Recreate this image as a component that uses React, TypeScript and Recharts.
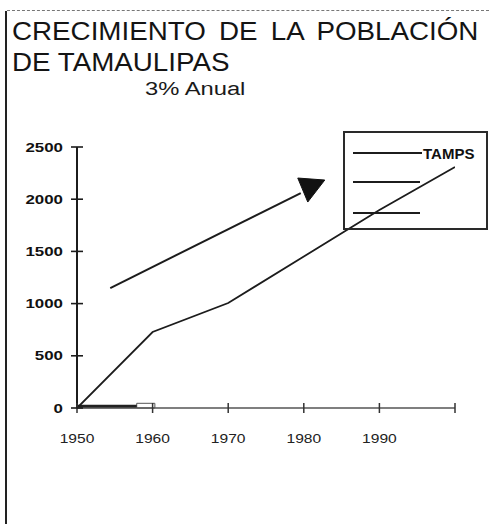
import React from 'react';
import { LineChart, Line, XAxis, YAxis, ReferenceArea } from 'recharts';

// ---- data ----
const years = [1950, 1960, 1970, 1980, 1990, 2000];
const tamps = [0, 728, 1006, 1451, 1897, 2308];
const trendYears = [1954.4, 1979.6];
const trendValues = [1149, 2059];
const baseYears = [1950, 1957.9];
const baseValues = [14, 14];
const boxYears = [1957.9, 1960.3];
const boxValues = [0, 45];
const xTicks = [1950, 1960, 1970, 1980, 1990, 2000];
const xTickLabels = ['1950', '1960', '1970', '1980', '1990', ''];
const yTicks = [0, 500, 1000, 1500, 2000, 2500];
const seriesName = 'TAMPS';
const title1 = 'CRECIMIENTO DE LA POBLACIÓN';
const title2 = 'DE TAMAULIPAS';
const subtitle = '3% Anual';

const tampsData = years.map((y, i) => ({ year: y, v: tamps[i] }));
const trendData = trendYears.map((y, i) => ({ year: y, v: trendValues[i] }));
const baseData = baseYears.map((y, i) => ({ year: y, v: baseValues[i] }));

const FONT = '"Liberation Sans", Arial, Helvetica, sans-serif';
const W = 489;
const H = 524;
const INK = '#1c1c1c';

const YTick = (props: any) => {
  const { x, y, payload } = props;
  const ax = x + 8;
  return (
    <g>
      <line x1={ax - 6} x2={ax + 6} y1={y} y2={y} stroke={INK} strokeWidth={1.6} />
      <g transform={`translate(${ax - 14},${y}) scale(1.3,1)`}>
        <text textAnchor="end" dy="0.36em" fontFamily={FONT} fontWeight="bold" fontSize={13} fill="#111">
          {payload.value}
        </text>
      </g>
    </g>
  );
};

const XTick = (props: any) => {
  const { x, y, payload } = props;
  const ay = y - 8;
  const idx = xTicks.indexOf(payload.value);
  const label = idx >= 0 ? xTickLabels[idx] : String(payload.value);
  return (
    <g>
      <line x1={x} x2={x} y1={ay - 5} y2={ay + 5} stroke="#333" strokeWidth={1.5} />
      <g transform={`translate(${x},${ay + 35}) scale(1.3,1)`}>
        <text textAnchor="middle" fontFamily={FONT} fontSize={12} fill="#222">
          {label}
        </text>
      </g>
    </g>
  );
};

const ArrowDot = (props: any) => {
  const { cx, cy, index } = props;
  if (index !== trendData.length - 1 || cx == null) return <g key={`ad-${index}`} />;
  const pts = [
    [cx - 3, cy - 15],
    [cx + 24, cy - 13],
    [cx + 7, cy + 9],
  ]
    .map((p) => p.join(','))
    .join(' ');
  return <polygon key={`ad-${index}`} points={pts} fill="#111" stroke="#111" strokeWidth={1} />;
};

const Legend = () => (
  <div
    style={{
      position: 'absolute',
      left: 343,
      top: 131,
      width: 141,
      height: 95,
      border: '2px solid #2a2a2a',
    }}
  >
    <svg width={141} height={95} style={{ position: 'absolute', left: 0, top: 0 }}>
      <line x1={8} x2={77} y1={20} y2={20} stroke={INK} strokeWidth={2} />
      <text x={78} y={26} fontFamily={FONT} fontWeight="bold" fontSize={15} fill="#111">
        {seriesName}
      </text>
      <line x1={8} x2={75} y1={49} y2={49} stroke={INK} strokeWidth={2} />
      <line x1={8} x2={75} y1={80} y2={80} stroke={INK} strokeWidth={2} />
    </svg>
  </div>
);

const titleStyle: React.CSSProperties = {
  position: 'absolute',
  left: 12,
  fontSize: 25,
  lineHeight: '25px',
  color: '#141414',
  whiteSpace: 'nowrap',
  transform: 'scaleX(1.11)',
  transformOrigin: '0 0',
};

export default function App() {
  return (
    <div
      style={{
        position: 'absolute',
        left: 0,
        top: 0,
        width: W,
        height: H,
        background: '#fff',
        overflow: 'hidden',
        fontFamily: FONT,
      }}
    >
      <div style={{ position: 'absolute', left: 5, top: 11, width: 2, height: H - 11, background: '#222' }} />
      <div style={{ position: 'absolute', left: 7, top: 10, width: W - 7, height: 0, borderTop: '1px dashed #777' }} />

      <div style={{ ...titleStyle, top: 19, wordSpacing: 5 }}>{title1}</div>
      <div style={{ ...titleStyle, top: 50 }}>{title2}</div>
      <div
        style={{
          position: 'absolute',
          left: 145,
          top: 80,
          fontSize: 18,
          lineHeight: '18px',
          color: '#1a1a1a',
          whiteSpace: 'nowrap',
          transform: 'scaleX(1.32)',
          transformOrigin: '0 0',
        }}
      >
        {subtitle}
      </div>

      <LineChart
        width={W}
        height={H}
        margin={{ top: 147, right: 34, bottom: 86, left: 0 }}
        style={{ position: 'absolute', left: 0, top: 0 }}
      >
        <XAxis
          type="number"
          dataKey="year"
          domain={[1950, 2000]}
          ticks={xTicks}
          interval={0}
          allowDataOverflow
          axisLine={{ stroke: '#555', strokeWidth: 1.5 }}
          tickLine={false}
          tickSize={6}
          tickMargin={2}
          tick={<XTick />}
          height={30}
        />
        <YAxis
          type="number"
          domain={[0, 2500]}
          ticks={yTicks}
          interval={0}
          width={77}
          axisLine={{ stroke: INK, strokeWidth: 2 }}
          tickLine={false}
          tickSize={6}
          tickMargin={2}
          tick={<YTick />}
        />
        <ReferenceArea
          x1={boxYears[0]}
          x2={boxYears[1]}
          y1={boxValues[0]}
          y2={boxValues[1]}
          fill="none"
          stroke="#555"
          strokeWidth={1}
          ifOverflow="visible"
        />
        <Line
          data={baseData}
          dataKey="v"
          stroke="#222"
          strokeWidth={3.5}
          dot={false}
          isAnimationActive={false}
          legendType="none"
        />
        <Line
          data={tampsData}
          dataKey="v"
          name={seriesName}
          stroke={INK}
          strokeWidth={1.8}
          dot={false}
          isAnimationActive={false}
        />
        <Line
          data={trendData}
          dataKey="v"
          stroke={INK}
          strokeWidth={2}
          dot={<ArrowDot />}
          activeDot={false}
          isAnimationActive={false}
          legendType="none"
        />
      </LineChart>
      <Legend />
    </div>
  );
}
